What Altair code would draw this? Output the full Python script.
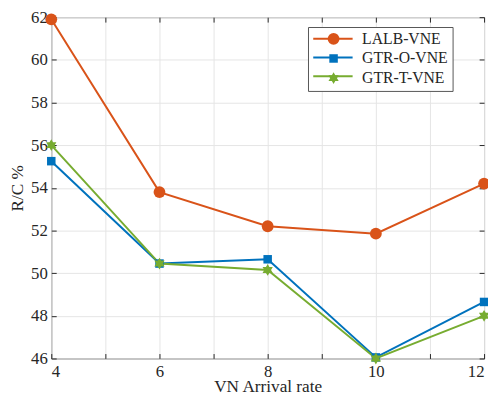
import altair as alt
import pandas as pd

x_vals = [4, 6, 8, 10, 12]
series_names = ["LALB-VNE", "GTR-O-VNE", "GTR-T-VNE"]
lalb = [61.9, 53.8, 52.2, 51.85, 54.2]
gtr_o = [55.25, 50.45, 50.65, 46.05, 48.65]
gtr_t = [56.0, 50.45, 50.15, 46.0, 48.0]
colors = ["#D95319", "#0072BD", "#77AC30"]
x_ticks = [4, 5, 6, 7, 8, 9, 10, 11, 12]
y_ticks = [46, 48, 50, 52, 54, 56, 58, 60, 62]

# marker legend uses its own copy of the names so it is not merged with the line legend
marker_names = [n + " " for n in series_names]

rows = []
for name, mname, vals in zip(series_names, marker_names, [lalb, gtr_o, gtr_t]):
    for xv, yv in zip(x_vals, vals):
        rows.append({"rate": xv, "rc": yv, "series": name, "marker": mname})
df = pd.DataFrame(rows)

W, H = 440, 347
FONT = "Liberation Serif"
TXT = "#262626"
LX, LY = 261, 10

square = "M-0.72,-0.72H0.72V0.72H-0.72Z"
hexagram = ("M0,-1L0.289,-0.5L0.866,-0.5L0.577,0L0.866,0.5L0.289,0.5L0,1"
            "L-0.289,0.5L-0.866,0.5L-0.577,0L-0.866,-0.5L-0.289,-0.5Z")

xscale = alt.Scale(domain=[4, 12], nice=False, zero=False)
yscale = alt.Scale(domain=[46, 62], nice=False, zero=False)

base = alt.Chart(df)

lines = base.mark_line(strokeWidth=2).encode(
    x=alt.X("rate:Q", scale=xscale, title="VN Arrival rate",
            axis=alt.Axis(values=x_ticks, labelExpr="datum.value % 2 == 0 ? datum.label : ''",
                          grid=True, gridColor="#e4e4e4", ticks=False, domain=False,
                          labelFont=FONT, labelFontSize=17, labelColor=TXT, labelPadding=5,
                          titleFont=FONT, titleFontSize=17.5, titleFontWeight="normal",
                          titleColor=TXT, titleY=29, titleBaseline="middle")),
    y=alt.Y("rc:Q", scale=yscale, title="R/C %",
            axis=alt.Axis(values=y_ticks, grid=True, gridColor="#e4e4e4", ticks=False,
                          domain=False, labelFont=FONT, labelFontSize=17, labelColor=TXT,
                          labelPadding=4, titleFont=FONT, titleFontSize=17.5,
                          titleFontWeight="normal", titleColor=TXT, titleX=-34,
                          titleY=H / 2, titleBaseline="middle")),
    stroke=alt.Stroke("series:N", scale=alt.Scale(domain=series_names, range=colors),
                      legend=alt.Legend(title=None, orient="none", legendX=LX, legendY=LY,
                                        symbolType="M-1,0H5", symbolSize=178,
                                        symbolStrokeWidth=2, labelOffset=30,
                                        labelExpr="''",
                                        labelFont=FONT, labelFontSize=16,
                                        labelColor="transparent",
                                        padding=4, rowPadding=3, zindex=2)),
)

points = base.mark_point(filled=True, opacity=1, size=144).encode(
    x=alt.X("rate:Q", scale=xscale,
            axis=alt.Axis(orient="top", offset=-H, values=x_ticks, labels=False, grid=False,
                          domain=False, ticks=True, tickSize=5, tickColor=TXT, title=None)),
    y=alt.Y("rc:Q", scale=yscale,
            axis=alt.Axis(orient="right", offset=-W, values=y_ticks, labels=False, grid=False,
                          domain=False, ticks=True, tickSize=5, tickColor=TXT, title=None)),
    fill=alt.Fill("marker:N", scale=alt.Scale(domain=marker_names, range=colors),
                  legend=alt.Legend(title=None, orient="none", legendX=LX, legendY=LY,
                                    labelFont=FONT, labelFontSize=16, labelColor=TXT,
                                    symbolOffset=14, labelOffset=21, symbolSize=144,
                                    fillColor="white", strokeColor="#555555",
                                    padding=4, rowPadding=3, zindex=1)),
    shape=alt.Shape("marker:N", scale=alt.Scale(domain=marker_names,
                                                range=["circle", square, hexagram])),
)

ticks2 = base.mark_point(opacity=0).encode(
    x=alt.X("rate:Q", scale=xscale,
            axis=alt.Axis(orient="bottom", offset=-H, values=x_ticks, labels=False, grid=False,
                          domain=False, ticks=True, tickSize=5, tickColor=TXT, title=None)),
    y=alt.Y("rc:Q", scale=yscale,
            axis=alt.Axis(orient="left", offset=-W, values=y_ticks, labels=False, grid=False,
                          domain=False, ticks=True, tickSize=5, tickColor=TXT, title=None)),
)

chart = alt.layer(lines, points, ticks2).resolve_axis(
    x="independent", y="independent"
).properties(
    width=W, height=H,
    padding={"left": 44, "top": 6, "right": 4, "bottom": 46},
    autosize=alt.AutoSizeParams(type="none"),
    background="white",
).configure_view(
    stroke="#4d4d4d", strokeWidth=1
)

chart.save("out.html", embed_options={"renderer": "svg", "actions": False})
